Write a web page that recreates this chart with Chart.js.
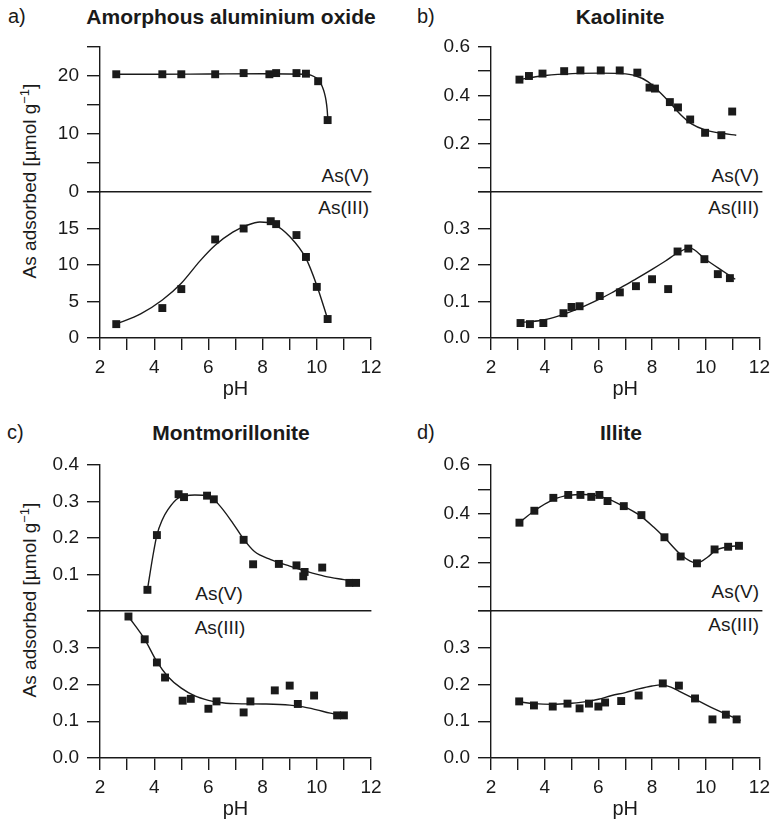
<!DOCTYPE html>
<html>
<head>
<meta charset="utf-8">
<title>As adsorption vs pH</title>
<script src="https://cdn.jsdelivr.net/npm/chart.js@4.4.1/dist/chart.umd.min.js"></script>
<style>
  body { margin: 0; background: #fff; }
  #fig { position: relative; width: 776px; height: 821px; font-family: "Liberation Sans", Arial, sans-serif; color: #1a1a1a; }
  #fig canvas { position: absolute; left: 0; top: 0; }
  .lbl { position: absolute; white-space: nowrap; line-height: 1; font-size: 19px; }
  .tag { font-size: 20px; transform: translate(0, -50%); }
  .name { font-size: 21px; font-weight: bold; transform: translate(-50%, -50%); }
  .ctr { transform: translate(-50%, -50%); }
  .rgt { transform: translate(-100%, -50%); }
  .ytitle { transform: translate(-50%, -50%) rotate(-90deg); }
  sup { font-size: 13px; vertical-align: 7px; line-height: 0; }
</style>
</head>
<body>
<div id="fig">
  <div class="lbl tag" style="left:8px;top:16px">a)</div>
  <div class="lbl name" style="left:231px;top:16px">Amorphous aluminium oxide</div>
  <div class="lbl tag" style="left:417px;top:16px">b)</div>
  <div class="lbl name" style="left:620px;top:16px">Kaolinite</div>
  <div class="lbl tag" style="left:7px;top:432px">c)</div>
  <div class="lbl name" style="left:231px;top:432px">Montmorillonite</div>
  <div class="lbl tag" style="left:417px;top:432px">d)</div>
  <div class="lbl name" style="left:621px;top:432px">Illite</div>

  <div class="lbl ytitle" style="left:29px;top:181px">As adsorbed [µmol g<sup>−1</sup>]</div>
  <div class="lbl ytitle" style="left:29px;top:600px">As adsorbed [µmol g<sup>−1</sup>]</div>

  <div class="lbl rgt" style="left:369px;top:175px">As(V)</div>
  <div class="lbl rgt" style="left:369px;top:207px">As(III)</div>
  <div class="lbl rgt" style="left:759px;top:175px">As(V)</div>
  <div class="lbl rgt" style="left:759px;top:207px">As(III)</div>
  <div class="lbl ctr" style="left:219px;top:593px">As(V)</div>
  <div class="lbl ctr" style="left:220px;top:627px">As(III)</div>
  <div class="lbl rgt" style="left:759px;top:591px">As(V)</div>
  <div class="lbl rgt" style="left:759px;top:624px">As(III)</div>
</div>

<script>
// pH axis
const phTicks = [2, 4, 6, 8, 10, 12];

// a) amorphous aluminium oxide (umol/g)
const alV_pH = [2.6, 4.3, 5.0, 6.25, 7.3, 8.25, 8.5, 9.25, 9.6, 10.05, 10.4];
const alV = [20.3, 20.3, 20.3, 20.3, 20.5, 20.3, 20.5, 20.5, 20.4, 19.1, 12.4];
const alVFit_pH = [2.6, 4.0, 6.0, 8.0, 9.6, 9.8, 10.0, 10.1, 10.2, 10.28, 10.34, 10.38, 10.41];
const alVFit = [20.3, 20.3, 20.35, 20.4, 20.3, 20.1, 19.6, 19.1, 18.2, 17.1, 15.8, 14.3, 12.4];
const alIII_pH = [2.6, 4.3, 5.0, 6.25, 7.3, 8.3, 8.5, 9.25, 9.6, 10.0, 10.4];
const alIII = [1.9, 4.1, 6.7, 13.5, 15.0, 16.0, 15.6, 14.1, 11.1, 7.0, 2.6];
const alIIIFit_pH = [2.6, 3.5, 4.3, 5.0, 5.7, 6.25, 6.9, 7.4, 7.9, 8.4, 9.0, 9.6, 10.0, 10.4];
const alIIIFit = [1.9, 3.3, 5.2, 7.5, 10.6, 12.7, 14.5, 15.4, 15.9, 15.6, 13.9, 10.9, 7.2, 2.6];
const alVTicks = [0, 10, 20];
const alIIITicks = [0, 5, 10, 15];

// b) kaolinite
const kaV_pH = [3.05, 3.4, 3.9, 4.7, 5.3, 6.05, 6.75, 7.4, 7.85, 8.05, 8.6, 8.9, 9.35, 9.9, 10.5, 10.9];
const kaV = [0.465, 0.48, 0.49, 0.5, 0.503, 0.503, 0.503, 0.494, 0.432, 0.428, 0.372, 0.35, 0.3, 0.245, 0.235, 0.333];
const kaVFit_pH = [3.05, 3.5, 4.0, 5.0, 6.0, 6.8, 7.3, 7.8, 8.2, 8.6, 9.0, 9.4, 9.9, 10.5, 11.05];
const kaVFit = [0.465, 0.474, 0.482, 0.49, 0.492, 0.49, 0.482, 0.456, 0.416, 0.37, 0.32, 0.282, 0.257, 0.243, 0.235];
const kaIII_pH = [3.1, 3.45, 3.95, 4.7, 5.0, 5.3, 6.05, 6.8, 7.4, 8.0, 8.6, 8.95, 9.35, 9.95, 10.45, 10.9];
const kaIII = [0.041, 0.038, 0.041, 0.068, 0.085, 0.087, 0.115, 0.125, 0.142, 0.161, 0.134, 0.237, 0.245, 0.216, 0.175, 0.164];
const kaIIIFit_pH = [3.1, 3.5, 4.0, 4.5, 5.0, 5.5, 6.0, 6.5, 7.0, 7.5, 8.0, 8.5, 9.0, 9.4, 10.0, 10.5, 11.1];
const kaIIIFit = [0.043, 0.045, 0.05, 0.06, 0.073, 0.088, 0.105, 0.124, 0.145, 0.166, 0.188, 0.211, 0.235, 0.247, 0.215, 0.19, 0.161];
const kaVTicks = [0.2, 0.4, 0.6];
const kaIIITicks = [0, 0.1, 0.2, 0.3];

// c) montmorillonite
const moV_pH = [3.75, 4.1, 4.9, 5.1, 5.95, 6.2, 7.3, 7.65, 8.6, 9.25, 9.5, 9.55, 10.2, 11.2, 11.45];
const moV = [0.058, 0.208, 0.32, 0.312, 0.316, 0.306, 0.195, 0.128, 0.129, 0.125, 0.095, 0.107, 0.119, 0.077, 0.077];
const moVFit_pH = [3.75, 3.95, 4.1, 4.3, 4.5, 4.9, 5.5, 6.0, 6.4, 6.9, 7.3, 7.7, 8.3, 9.0, 9.6, 10.3, 11.0, 11.5];
const moVFit = [0.058, 0.15, 0.208, 0.25, 0.277, 0.31, 0.318, 0.316, 0.29, 0.241, 0.197, 0.163, 0.141, 0.123, 0.109, 0.095, 0.086, 0.08];
const moIII_pH = [3.05, 3.65, 4.1, 4.4, 5.05, 5.35, 6.0, 6.3, 7.3, 7.55, 8.45, 9.0, 9.3, 9.9, 10.75, 11.0];
const moIII = [0.385, 0.323, 0.26, 0.219, 0.156, 0.161, 0.134, 0.154, 0.124, 0.154, 0.184, 0.197, 0.147, 0.17, 0.116, 0.116];
const moIIIFit_pH = [3.05, 3.65, 4.1, 4.5, 5.0, 5.5, 6.0, 6.4, 7.0, 8.0, 9.0, 9.5, 10.0, 10.5, 11.0];
const moIIIFit = [0.385, 0.323, 0.262, 0.222, 0.19, 0.169, 0.157, 0.151, 0.148, 0.147, 0.144, 0.139, 0.131, 0.122, 0.116];
const moVTicks = [0.1, 0.2, 0.3, 0.4];
const moIIITicks = [0, 0.1, 0.2, 0.3];

// d) illite
const ilV_pH = [3.05, 3.6, 4.3, 4.85, 5.3, 5.7, 6.0, 6.3, 6.9, 7.55, 8.4, 9.0, 9.6, 10.25, 10.75, 11.15];
const ilV = [0.363, 0.412, 0.465, 0.477, 0.477, 0.469, 0.477, 0.452, 0.431, 0.394, 0.303, 0.224, 0.196, 0.253, 0.264, 0.268];
const ilVFit_pH = [3.05, 3.6, 4.3, 4.9, 5.4, 5.9, 6.4, 6.9, 7.5, 8.0, 8.4, 9.0, 9.35, 9.6, 10.0, 10.3, 10.8, 11.15];
const ilVFit = [0.363, 0.412, 0.458, 0.476, 0.479, 0.474, 0.457, 0.43, 0.392, 0.345, 0.302, 0.232, 0.205, 0.197, 0.222, 0.25, 0.264, 0.268];
const ilIII_pH = [3.05, 3.6, 4.3, 4.85, 5.3, 5.65, 6.0, 6.25, 6.85, 7.5, 8.4, 9.0, 9.6, 10.25, 10.75, 11.15];
const ilIII = [0.154, 0.143, 0.14, 0.148, 0.135, 0.148, 0.14, 0.151, 0.155, 0.17, 0.203, 0.197, 0.162, 0.105, 0.118, 0.105];
const ilIIIFit_pH = [3.05, 3.6, 4.3, 5.0, 5.6, 6.0, 6.5, 7.0, 7.5, 8.0, 8.35, 8.7, 9.0, 9.6, 10.2, 10.8, 11.3];
const ilIIIFit = [0.153, 0.148, 0.146, 0.149, 0.154, 0.16, 0.17, 0.178, 0.188, 0.196, 0.199, 0.193, 0.182, 0.16, 0.138, 0.118, 0.102];
const ilVTicks = [0.2, 0.4, 0.6];
const ilIIITicks = [0, 0.1, 0.2, 0.3];

// page layout (px)
const W = 776, H = 821;
const Y_AXIS_W = 60, X_AXIS_H = 63;
const INK = '#1a1a1a';
const rows = [{ top: 47, mid: 192, bottom: 338 }, { top: 465, mid: 611, bottom: 758 }];
const cols = [{ left: 100, right: 371 }, { left: 491, right: 762 }];

Chart.defaults.font.family = "'Liberation Sans', Arial, sans-serif";
Chart.defaults.font.size = 19;
Chart.defaults.color = INK;

const pairs = (xs, ys) => xs.map((x, i) => ({ x: x, y: ys[i] }));

function tickText(labels, decimals) {
  return function (value) {
    const hit = labels.some(l => Math.abs(l - value) < 1e-6);
    return hit ? value.toFixed(decimals) : '';
  };
}

// one half of a panel: upper = As(V), lower = As(III)
function subplot(p) {
  const row = rows[p.row], col = cols[p.col];
  const lower = p.part === 'III';
  const top = lower ? row.mid : row.top;
  const bottom = lower ? row.bottom : row.mid;
  const xh = lower ? X_AXIS_H : 0;

  const canvas = document.createElement('canvas');
  canvas.width = W;
  canvas.height = H;
  document.getElementById('fig').appendChild(canvas);

  new Chart(canvas, {
    type: 'scatter',
    data: {
      datasets: [
        {
          data: pairs(p.fitPh, p.fit),
          showLine: true,
          borderColor: INK,
          borderWidth: 1.4,
          pointRadius: 0,
          cubicInterpolationMode: 'monotone',
          order: 2
        },
        {
          data: pairs(p.ph, p.vals),
          pointStyle: 'rect',
          pointRadius: 5.6,
          backgroundColor: INK,
          borderWidth: 0,
          clip: false,
          order: 1
        }
      ]
    },
    options: {
      responsive: false,
      animation: false,
      events: [],
      layout: {
        padding: { left: col.left - Y_AXIS_W, right: W - col.right, top: top, bottom: H - bottom - xh }
      },
      plugins: { legend: { display: false }, tooltip: { enabled: false } },
      scales: {
        x: {
          type: 'linear',
          min: 2,
          max: 12,
          afterFit: s => { s.height = xh; },
          border: { display: true, color: INK, width: 1.4 },
          grid: { drawOnChartArea: false, drawTicks: lower, tickLength: 12, color: INK, lineWidth: 1.4 },
          ticks: {
            display: lower,
            stepSize: 1,
            autoSkip: false,
            maxRotation: 0,
            padding: 6,
            callback: tickText(phTicks, 0)
          },
          title: { display: lower, text: 'pH', font: { size: 20 }, padding: { top: 0, bottom: 0 } }
        },
        y: {
          min: p.min,
          max: p.max,
          afterFit: s => { s.width = Y_AXIS_W; },
          border: { display: true, color: INK, width: 1.4 },
          grid: { drawOnChartArea: false, drawTicks: true, tickLength: 13, color: INK, lineWidth: 1.4 },
          ticks: {
            stepSize: p.step,
            autoSkip: false,
            padding: 8,
            callback: tickText(p.labels, p.dec)
          }
        }
      }
    }
  });
}

subplot({ row: 0, col: 0, part: 'V', min: 0, max: 25, step: 5, labels: alVTicks, dec: 0,
  ph: alV_pH, vals: alV, fitPh: alVFit_pH, fit: alVFit });
subplot({ row: 0, col: 0, part: 'III', min: 0, max: 20, step: 5, labels: alIIITicks, dec: 0,
  ph: alIII_pH, vals: alIII, fitPh: alIIIFit_pH, fit: alIIIFit });
subplot({ row: 0, col: 1, part: 'V', min: 0, max: 0.6, step: 0.1, labels: kaVTicks, dec: 1,
  ph: kaV_pH, vals: kaV, fitPh: kaVFit_pH, fit: kaVFit });
subplot({ row: 0, col: 1, part: 'III', min: 0, max: 0.4, step: 0.1, labels: kaIIITicks, dec: 1,
  ph: kaIII_pH, vals: kaIII, fitPh: kaIIIFit_pH, fit: kaIIIFit });
subplot({ row: 1, col: 0, part: 'V', min: 0, max: 0.4, step: 0.1, labels: moVTicks, dec: 1,
  ph: moV_pH, vals: moV, fitPh: moVFit_pH, fit: moVFit });
subplot({ row: 1, col: 0, part: 'III', min: 0, max: 0.4, step: 0.1, labels: moIIITicks, dec: 1,
  ph: moIII_pH, vals: moIII, fitPh: moIIIFit_pH, fit: moIIIFit });
subplot({ row: 1, col: 1, part: 'V', min: 0, max: 0.6, step: 0.1, labels: ilVTicks, dec: 1,
  ph: ilV_pH, vals: ilV, fitPh: ilVFit_pH, fit: ilVFit });
subplot({ row: 1, col: 1, part: 'III', min: 0, max: 0.4, step: 0.1, labels: ilIIITicks, dec: 1,
  ph: ilIII_pH, vals: ilIII, fitPh: ilIIIFit_pH, fit: ilIIIFit });
</script>
</body>
</html>
